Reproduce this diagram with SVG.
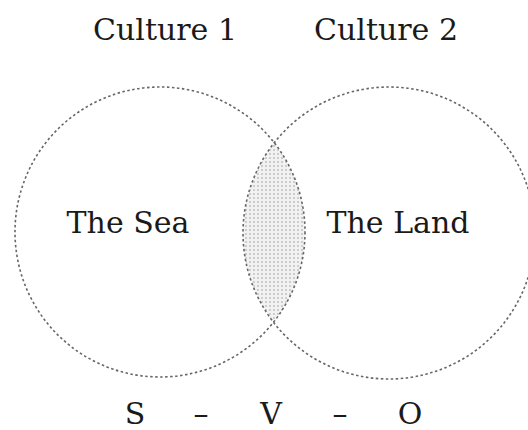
<svg xmlns="http://www.w3.org/2000/svg" width="528" height="430" viewBox="0 0 528 430">
<style>
.lbl{font-family:"DejaVu Serif","Liberation Serif",serif;fill:#1a1a1a;font-size:30px}
.circ{fill:none;stroke:#666;stroke-width:1.6;stroke-dasharray:2.5 2.5}
</style>
<defs>
<pattern id="dots" width="4" height="4" patternUnits="userSpaceOnUse">
<rect width="4" height="4" fill="#f2f2f2"/>
<circle cx="2" cy="2" r="0.9" fill="#bbb"/>
</pattern>
<clipPath id="clipL"><circle cx="160" cy="232" r="145"/></clipPath>
</defs>
<rect width="528" height="430" fill="#fff"/>
<g id="lens">
<circle cx="389" cy="233" r="146" fill="url(#dots)" clip-path="url(#clipL)"/>
</g>
<g id="culture1">
<circle class="circ" cx="160" cy="232" r="145"/>
<text class="lbl" x="165" y="40" text-anchor="middle">Culture 1</text>
<text class="lbl" x="128" y="233" text-anchor="middle">The Sea</text>
</g>
<g id="culture2">
<circle class="circ" cx="389" cy="233" r="146"/>
<text class="lbl" x="386" y="40" text-anchor="middle">Culture 2</text>
<text class="lbl" x="398" y="233" text-anchor="middle">The Land</text>
</g>
<g id="connectors"></g>
<g id="svo">
<text class="lbl" x="135" y="424" text-anchor="middle">S</text>
<text class="lbl" x="201" y="424" text-anchor="middle">–</text>
<text class="lbl" x="271" y="424" text-anchor="middle">V</text>
<text class="lbl" x="340" y="424" text-anchor="middle">–</text>
<text class="lbl" x="410" y="424" text-anchor="middle">O</text>
</g>
</svg>
